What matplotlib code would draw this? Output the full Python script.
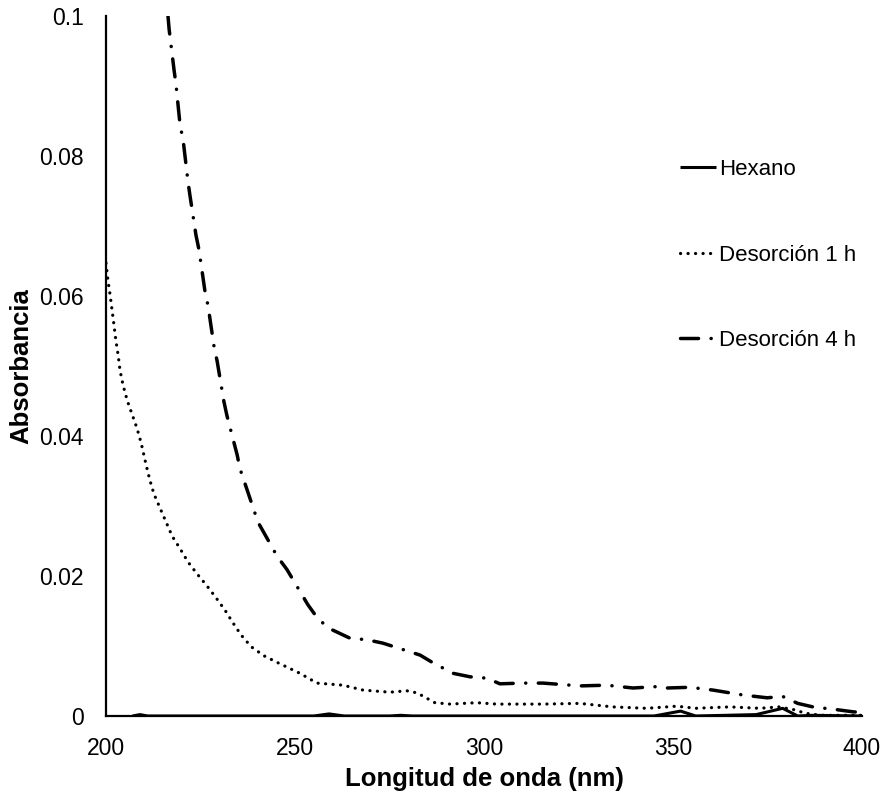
import matplotlib
matplotlib.use("Agg")
import matplotlib.pyplot as plt

plt.rcParams['font.family'] = ['Liberation Sans', 'DejaVu Sans']
plt.rcParams['lines.scale_dashes'] = False

# Hexano (solid)
hex_wl = [207, 209, 211, 255, 259, 263, 275, 278, 281, 345, 352, 356,
          372, 379, 383, 387, 400]
hex_abs = [0, 0.0002, 0, 0, 0.0003, 0, 0, 0.0001, 0, 0, 0.0007, 0,
           0.0002, 0.0011, 0.0, 0.0001, 0]

# Desorcion 1 h (dotted)
d1_wl = [200, 200.5, 201.1, 201.6, 202.1, 202.6, 203.2, 203.7, 204.5, 205.6,
         206.9, 208.2, 209.3, 210.6, 211.6, 212.7, 214.3, 215.9, 217.5, 219.6,
         221.7, 224.1, 226.7, 229.1, 231.5, 233.6, 235.7, 238.4, 241.8, 245.5,
         251.3, 255.8, 262.7, 268, 275.1, 279.6, 282.3, 287, 291, 298.1,
         303.4, 315.6, 325.4, 334, 343, 351, 356, 365, 373, 378,
         382, 385, 389, 400]
d1_abs = [0.0647, 0.0623, 0.0601, 0.058, 0.0559, 0.0537, 0.0516, 0.0494, 0.0473, 0.0451,
          0.0431, 0.0411, 0.039, 0.0359, 0.0337, 0.0317, 0.0297, 0.0277, 0.0257, 0.0239,
          0.022, 0.0203, 0.0186, 0.0169, 0.0151, 0.0133, 0.0116, 0.0099, 0.0086, 0.0076,
          0.0061, 0.0047, 0.0044, 0.0037, 0.0034, 0.0036, 0.0033, 0.0019, 0.0017, 0.0019,
          0.0017, 0.0017, 0.0018, 0.0013, 0.0011, 0.0014, 0.0011, 0.0013, 0.0011, 0.0013,
          0.0009, 0.0004, 0.0001, 0.0001]

# Desorcion 4 h (dash-dot)
d4_wl = [216.4, 216.7, 218, 218.5, 219.6, 220.4, 221.7, 222.2, 223.8, 224.6,
         226.2, 227, 228.6, 229.4, 231.2, 232, 234.7, 235.4, 240.2, 245.3,
         247.9, 253.4, 255.8, 258.7, 264.6, 269, 273.3, 279.1, 283.1, 286.5,
         291.8, 296.3, 300.8, 304.2, 310.3, 315.6, 325.4, 332.5, 339.4, 345.8,
         348.4, 354.5, 360.6, 368.5, 374.9, 379, 383, 387, 393.4, 397.6, 400]
d4_abs = [0.1, 0.0981, 0.0923, 0.0903, 0.0844, 0.0823, 0.0763, 0.0744, 0.0687, 0.0666,
          0.0606, 0.0586, 0.0527, 0.0507, 0.0449, 0.0429, 0.0373, 0.0354, 0.0277, 0.0228,
          0.0209, 0.0159, 0.0141, 0.0126, 0.0111, 0.0109, 0.0104, 0.0094, 0.0087, 0.0076,
          0.0061, 0.0056, 0.0054, 0.0046, 0.0047, 0.0047, 0.0043, 0.0044, 0.004, 0.0042,
          0.004, 0.0041, 0.0037, 0.003, 0.0026, 0.0028, 0.0018, 0.0013, 0.0009, 0.0006, 0.0005]

labels = ["Hexano", "Desorción 1 h", "Desorción 4 h"]

fig = plt.figure(figsize=(8.85, 7.94), dpi=100)
ax = fig.add_axes([106 / 885, 1 - 716 / 794, (862 - 106) / 885, 700 / 794])

ax.plot(hex_wl, hex_abs, color='black', lw=2.2, solid_capstyle='butt', label=labels[0])
ax.plot(d1_wl, d1_abs, color='black', lw=2.3, dashes=(0.1, 5.3),
        dash_capstyle='round', label=labels[1])
ax.plot(d4_wl, d4_abs, color='black', lw=2.5, dashes=(13, 9, 0.1, 9),
        dash_capstyle='round', label=labels[2])

ax.set_xlim(200, 400)
ax.set_ylim(0, 0.1)
ax.set_xticks([200, 250, 300, 350, 400])
ax.set_yticks([0, 0.02, 0.04, 0.06, 0.08, 0.1])
ax.set_yticklabels(["0", "0.02", "0.04", "0.06", "0.08", "0.1"])
ax.tick_params(length=0, labelsize=16.5, pad=16)
ax.tick_params(axis='x', pad=15)

for side in ['top', 'right']:
    ax.spines[side].set_visible(False)
for side in ['left', 'bottom']:
    ax.spines[side].set_linewidth(1.6)
    ax.spines[side].set_color('black')

ax.set_xlabel("Longitud de onda (nm)", fontsize=18.5, fontweight='bold', labelpad=5)
ax.set_ylabel("Absorbancia", fontsize=18.5, fontweight='bold', labelpad=4)

ax.legend(loc='upper left', bbox_to_anchor=(669 / 885, 1 - 148 / 794),
          bbox_transform=fig.transFigure, frameon=False, fontsize=16,
          handlelength=1.6, handletextpad=0.15, labelspacing=2.9, borderpad=0)

fig.savefig("out.png", dpi=100)
